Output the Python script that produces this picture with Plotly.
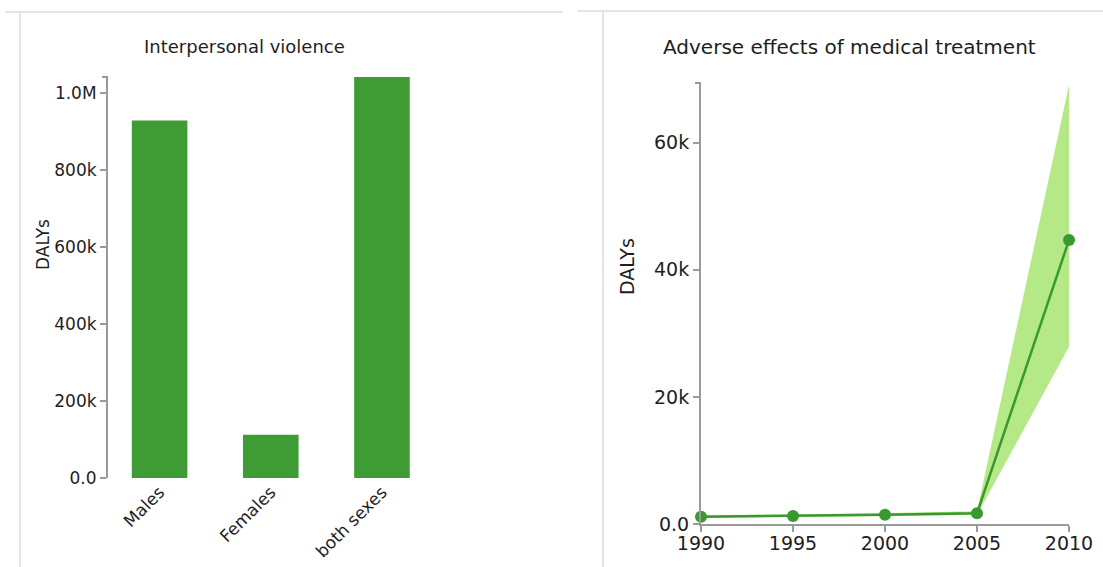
import plotly.graph_objects as go

# Interpersonal violence, DALYs by sex
sex_labels = ["Males", "Females", "both sexes"]
violence_dalys = [928000, 112000, 1041000]
violence_ticks = [0, 200000, 400000, 600000, 800000, 1000000]
violence_tick_text = ["0.0", "200k", "400k", "600k", "800k", "1.0M"]

# Adverse effects of medical treatment, DALYs over time with uncertainty
years = [1990, 1995, 2000, 2005, 2010]
adverse_mean = [1150, 1260, 1470, 1680, 44700]
adverse_lower = [950, 1050, 1250, 1400, 27900]
adverse_upper = [1400, 1500, 1750, 2000, 69100]
adverse_ticks = [0, 20000, 40000, 60000]
adverse_tick_text = ["0.0", "20k", "40k", "60k"]

W, H = 1103, 567
BAR_GREEN = "rgb(63,155,52)"
LINE_GREEN = "rgb(58,152,48)"
BAND_GREEN = "rgb(181,232,134)"
AXIS_GREY = "#9a9a9a"
BORDER_GREY = "#dcdcdc"
TEXT = "#1e1e1e"
FONT = "DejaVu Sans"


def px_x(x):
    return x / W


def px_y(y):
    return 1 - y / H


fig = go.Figure()

fig.add_trace(go.Bar(
    x=sex_labels, y=violence_dalys, marker=dict(color=BAR_GREEN, line=dict(width=0)),
    xaxis="x", yaxis="y", showlegend=False,
))

fig.add_trace(go.Scatter(
    x=years, y=adverse_lower, mode="lines", line=dict(width=0, color=BAND_GREEN),
    xaxis="x2", yaxis="y2", showlegend=False, hoverinfo="skip",
))
fig.add_trace(go.Scatter(
    x=years, y=adverse_upper, mode="lines", line=dict(width=0, color=BAND_GREEN),
    fill="tonexty", fillcolor=BAND_GREEN,
    xaxis="x2", yaxis="y2", showlegend=False, hoverinfo="skip",
))
fig.add_trace(go.Scatter(
    x=years, y=adverse_mean, mode="lines+markers",
    line=dict(width=2.5, color=LINE_GREEN),
    marker=dict(size=12, color=LINE_GREEN),
    xaxis="x2", yaxis="y2", showlegend=False, cliponaxis=False,
))

axis_common = dict(
    showgrid=False, zeroline=False, ticks="outside", ticklen=6, tickwidth=1.5,
    tickcolor=AXIS_GREY, linecolor=AXIS_GREY, linewidth=2, fixedrange=True,
    automargin=False,
)

fig.update_layout(
    width=W, height=H, autosize=False,
    margin=dict(l=0, r=0, t=0, b=0, pad=0, autoexpand=False),
    paper_bgcolor="white", plot_bgcolor="white",
    font=dict(family=FONT, color=TEXT),
    bargap=0.5,
    xaxis=dict(
        domain=[px_x(108), px_x(434)], anchor="y",
        range=[-0.464, 2.468], showline=False, ticks="", showgrid=False,
        zeroline=False, tickangle=-45, tickfont=dict(size=17), fixedrange=True,
        automargin=False,
    ),
    yaxis=dict(
        domain=[px_y(478), px_y(77)], anchor="x",
        range=[0, violence_dalys[2]], showline=True,
        tickvals=violence_ticks, ticktext=violence_tick_text,
        tickfont=dict(size=17), **axis_common,
    ),
    xaxis2=dict(
        domain=[px_x(701), px_x(1069)], anchor="y2",
        range=[years[0], years[-1]], showline=True,
        tickvals=years, tickfont=dict(size=19), ticklabelstandoff=-5,
        **axis_common,
    ),
    yaxis2=dict(
        domain=[px_y(524), px_y(83)], anchor="x2",
        range=[0, 69400], showline=True,
        tickvals=adverse_ticks, ticktext=adverse_tick_text,
        tickfont=dict(size=19), **axis_common,
    ),
)

# Panel titles and y-axis titles
fig.add_annotation(text="Interpersonal violence", x=px_x(244), y=px_y(46),
                   xref="paper", yref="paper", showarrow=False,
                   font=dict(size=18, color=TEXT), xanchor="center", yanchor="middle")
fig.add_annotation(text="Adverse effects of medical treatment", x=px_x(849), y=px_y(47),
                   xref="paper", yref="paper", showarrow=False,
                   font=dict(size=20, color=TEXT), xanchor="center", yanchor="middle")
fig.add_annotation(text="DALYs", x=px_x(43), y=px_y(245), textangle=-90,
                   xref="paper", yref="paper", showarrow=False,
                   font=dict(size=17, color=TEXT), xanchor="center", yanchor="middle")
fig.add_annotation(text="DALYs", x=px_x(627), y=px_y(267), textangle=-90,
                   xref="paper", yref="paper", showarrow=False,
                   font=dict(size=19, color=TEXT), xanchor="center", yanchor="middle")

# Panel frames
frames = [
    (5, 12, 563, 12), (20, 12, 20, H),
    (577, 11, W, 11), (603, 11, 603, H),
]
for x0, y0, x1, y1 in frames:
    fig.add_shape(type="line", xref="paper", yref="paper",
                  x0=px_x(x0), y0=px_y(y0), x1=px_x(x1), y1=px_y(y1),
                  line=dict(color=BORDER_GREY, width=1.5), layer="below")

# Outer end caps at the top of each y axis
for xd, yd in (("x domain", "y domain"), ("x2 domain", "y2 domain")):
    fig.add_shape(type="line", xref=xd, yref=yd, xsizemode="pixel", xanchor=0,
                  x0=-6, x1=0, y0=1, y1=1,
                  line=dict(color=AXIS_GREY, width=2))

fig.write_html("out.html")
